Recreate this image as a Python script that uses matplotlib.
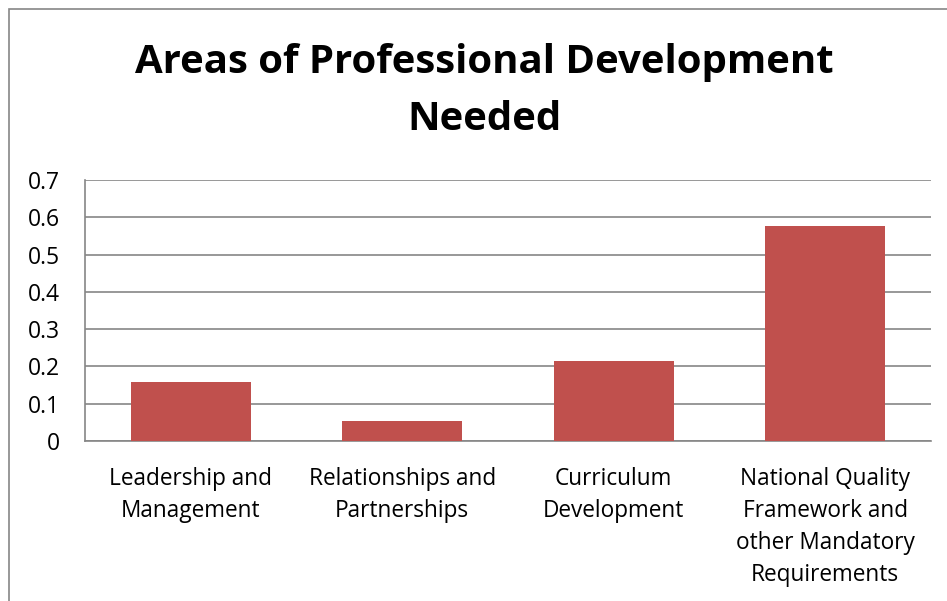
import matplotlib
matplotlib.use("Agg")
import matplotlib.pyplot as plt
from matplotlib.patches import Rectangle

# chart data
categories = ["Leadership and\nManagement",
              "Relationships and\nPartnerships",
              "Curriculum\nDevelopment",
              "National Quality\nFramework and\nother Mandatory\nRequirements"]
values = [0.158, 0.054, 0.215, 0.577]
yticks = [0, 0.1, 0.2, 0.3, 0.4, 0.5, 0.6, 0.7]
ytick_labels = ["0", "0.1", "0.2", "0.3", "0.4", "0.5", "0.6", "0.7"]

plt.rcParams['font.family'] = ['Open Sans', 'DejaVu Sans']
grid_col = "#868686"

fig = plt.figure(figsize=(9.47, 6.01), dpi=100)
W, H = 947, 601

# outer chart border (cut off at right/bottom like the screenshot)
fig.patches.append(Rectangle((9 / W, -0.1), 1.2, (H - 9) / H + 0.1,
                             transform=fig.transFigure, fill=False,
                             edgecolor=grid_col, linewidth=1.2))

ax = fig.add_axes([85 / W, 1 - 441 / H, (931 - 85) / W, (441 - 180) / H])
x = range(len(categories))
ax.bar(x, values, width=0.567, color="#C0504D", zorder=3)

ax.set_xlim(-0.5, len(categories) - 0.5)
ax.set_ylim(0, 0.7)
ax.set_yticks(yticks)
ax.set_yticklabels(ytick_labels, fontsize=16.5)
ax.set_xticks(list(x))
ax.set_xticklabels(categories, fontsize=16.3, linespacing=1.45)
ax.tick_params(axis='x', length=0, pad=18.5)
ax.tick_params(axis='y', length=0, pad=18)

ax.yaxis.grid(True, color=grid_col, linewidth=1.2, zorder=0)
for s in ["top", "right"]:
    ax.spines[s].set_visible(False)
for s in ["left", "bottom"]:
    ax.spines[s].set_color(grid_col)
    ax.spines[s].set_linewidth(1.2)

fig.text(484 / W, 1 - 62 / H, "Areas of Professional Development", ha="center",
         va="center", fontsize=28.9, fontweight="bold")
fig.text(484 / W, 1 - 120 / H, "Needed", ha="center",
         va="center", fontsize=28.9, fontweight="bold")

fig.savefig("out.png", dpi=100)
